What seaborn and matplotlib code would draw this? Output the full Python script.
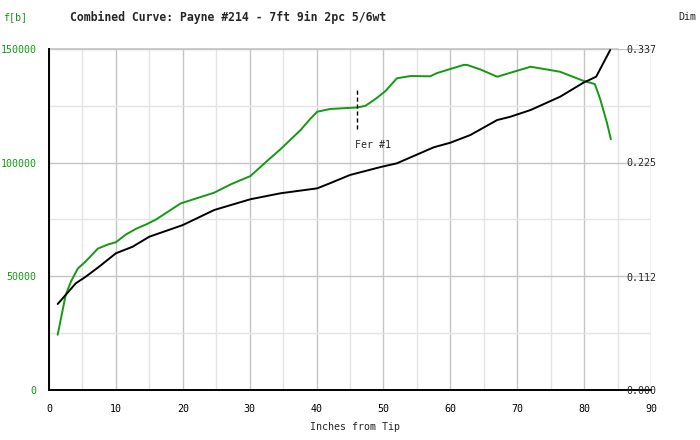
import matplotlib
matplotlib.use("Agg")
import matplotlib.pyplot as plt
from matplotlib.ticker import MultipleLocator, FixedLocator
import seaborn as sns
import pandas as pd

sns.set_style("white")
plt.rcParams['font.family'] = ['DejaVu Sans Mono']

# ----------------------------
# data
# ----------------------------
green_x = [1.3, 2.5, 3.3, 4.3, 5.5, 7.3, 8.8, 10, 11.5, 13, 14.5, 16, 19.7, 24.7,
           27.2, 30.1, 32.4, 34.6, 37.6, 39.1, 40.1, 42, 44.3, 46.1, 47.3, 48.8,
           50.3, 52, 54, 57, 58, 62, 62.5, 64.5, 67, 72, 76.4, 79.9, 81.6, 82.4,
           83.4, 84]
green_f = [24300, 41900, 47800, 53400, 56600, 62200, 64000, 65000, 68400, 70900,
           72800, 75000, 82100, 86800, 90500, 94100, 100200, 105900, 114300, 119400,
           122400, 123600, 124000, 124300, 125000, 128000, 131500, 137100, 138100,
           138000, 139400, 143000, 143000, 141000, 137800, 142200, 140000, 136000,
           134600, 128000, 117700, 110300]

black_x = [1.3, 2.5, 4, 5.5, 7.5, 10, 12.5, 15, 20, 24.7, 30.1, 34.6, 40.1, 42, 45,
           49.6, 52, 57.5, 60, 63, 67, 69, 72, 76.4, 79.9, 81.8, 83.9]
black_dim = [0.085, 0.094, 0.1054, 0.112, 0.1219, 0.1351, 0.1416, 0.1515, 0.163,
             0.1779, 0.1885, 0.1944, 0.1993, 0.2043, 0.2125, 0.2204, 0.224, 0.2398,
             0.2444, 0.252, 0.2668, 0.2701, 0.2767, 0.2898, 0.3037, 0.3096, 0.336]

dim_ticks = [0.0, 0.112, 0.225, 0.337]
ferrule_x = 46.1

green_df = pd.DataFrame({'x': green_x, 'f': green_f})
black_df = pd.DataFrame({'x': black_x, 'dim': black_dim})

GREEN = '#129a12'
GRID_MAJ = '#c4c4c4'
GRID_MIN = '#e4e4e4'

fig = plt.figure(figsize=(7, 4.4), dpi=100)
ax = fig.add_axes([49 / 700, 1 - 390 / 440, 602 / 700, 341 / 440])

# grid
ax.set_xlim(0, 90)
ax.set_ylim(0, 150000)
ax.xaxis.set_major_locator(MultipleLocator(10))
ax.xaxis.set_minor_locator(MultipleLocator(5))
ax.yaxis.set_major_locator(MultipleLocator(50000))
ax.yaxis.set_minor_locator(MultipleLocator(25000))
ax.grid(which='major', color=GRID_MAJ, lw=1)
ax.grid(which='minor', color=GRID_MIN, lw=1)
ax.set_axisbelow(True)
ax.tick_params(which='both', length=0)
ax.tick_params(axis='x', pad=10, labelsize=7.2, colors='black')
ax.tick_params(axis='y', pad=9, labelsize=7.2, labelcolor=GREEN)

for s in ['top', 'right']:
    ax.spines[s].set_visible(False)
for s in ['left', 'bottom']:
    ax.spines[s].set_color('black')
    ax.spines[s].set_linewidth(1.4)
ax.axhline(150000, xmax=85 / 90, color=GRID_MAJ, lw=1.2, clip_on=False)

sns.lineplot(data=green_df, x='x', y='f', ax=ax, color=GREEN, lw=1.4)
ax.set_xlabel('Inches from Tip', fontsize=7.2, labelpad=6)
ax.xaxis.label.set_x(306 / 602)
ax.set_ylabel('')

# ferrule marker
ax.vlines(ferrule_x, 114700, 132800, colors='black', linestyles=(0, (3, 2)), lw=1)
ax.text(ferrule_x - 0.3, 107700, 'Fer #1', fontsize=7.2, va='center', ha='left')

# right axis (dimension)
ax2 = ax.twinx()
ax2.set_ylim(0, 0.337)
sns.lineplot(data=black_df, x='x', y='dim', ax=ax2, color='black', lw=1.4)
ax2.yaxis.set_major_locator(FixedLocator(dim_ticks))
ax2.set_yticklabels([f'{t:.3f}' for t in dim_ticks])
ax2.tick_params(axis='y', length=0, pad=-18, labelsize=7.2)
ax2.set_ylabel('')
for s in ax2.spines.values():
    s.set_visible(False)
ax2.grid(False)

fig.text(3 / 700, 1 - 17 / 440, 'f[b]', color=GREEN, fontsize=7.2, va='center')
fig.text(70 / 700, 1 - 17 / 440, 'Combined Curve: Payne #214 - 7ft 9in 2pc 5/6wt',
         fontsize=8.3, fontweight='bold', va='center')
fig.text(678 / 700, 1 - 17 / 440, 'Dim', fontsize=7.2, va='center')

fig.savefig('out.png', dpi=100)
